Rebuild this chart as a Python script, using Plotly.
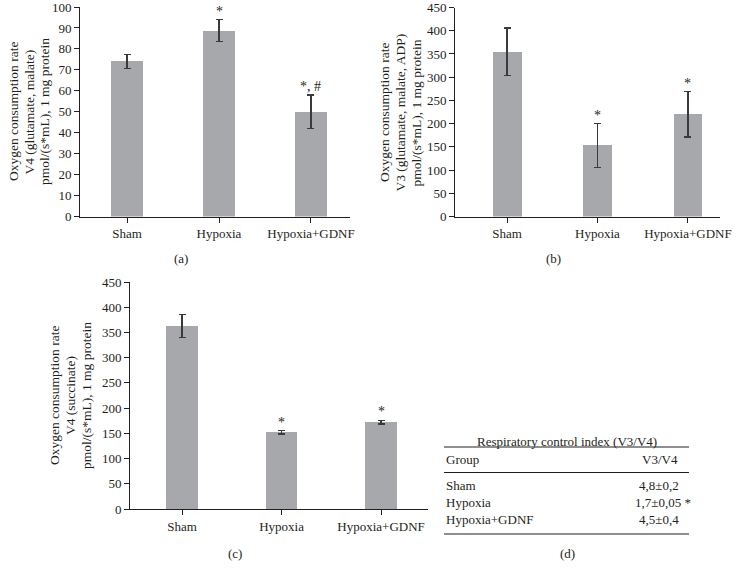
import plotly.graph_objects as go

groups = ["Sham", "Hypoxia", "Hypoxia+GDNF"]

# (a) V4 (glutamate, malate)
v4_glu = [74, 88.7, 50]
v4_glu_err = [3.3, 5.3, 8.0]
sig_a = ["", "*", "*, #"]

# (b) V3 (glutamate, malate, ADP)
v3_glu = [355, 153, 220]
v3_glu_err = [51, 47, 49]
sig_b = ["", "*", "*"]

# (c) V4 (succinate)
v4_succ = [363, 152, 172]
v4_succ_err = [23, 3.5, 3.5]
sig_c = ["", "*", "*"]

# (d) table
table_title = "Respiratory control index (V3/V4)"
table_header = ["Group", "V3/V4"]
table_groups = ["Sham", "Hypoxia", "Hypoxia+GDNF"]
table_values = ["4,8±0,2", "1,7±0,05 *", "4,5±0,4"]

W, H = 736, 571
FONT = "Liberation Serif"
BAR = "#a7a8ab"
INK = "#231f20"

def px(x):
    return x / W

def py(y):
    return 1 - y / H

fig = go.Figure()

panels = [
    dict(vals=v4_glu, err=v4_glu_err, sig=sig_a, xa="x", ya="y", width=0.34),
    dict(vals=v3_glu, err=v3_glu_err, sig=sig_b, xa="x2", ya="y2", width=0.32),
    dict(vals=v4_succ, err=v4_succ_err, sig=sig_c, xa="x3", ya="y3", width=0.32),
]

annotations = []
for p in panels:
    fig.add_trace(go.Bar(
        x=groups, y=p["vals"], xaxis=p["xa"], yaxis=p["ya"],
        width=p["width"], marker=dict(color=BAR, line=dict(width=0)),
        error_y=dict(type="data", array=p["err"], visible=True,
                     color="#3a3a3a", thickness=1.2, width=3.5),
        showlegend=False, hoverinfo="skip",
    ))
    for g, v, e, s in zip(groups, p["vals"], p["err"], p["sig"]):
        if s:
            annotations.append(dict(
                x=g, y=v + e, xref=p["xa"], yref=p["ya"], text=s,
                showarrow=False, yanchor="bottom", xanchor="center",
                font=dict(family=FONT, size=14, color=INK), yshift=-1,
            ))

axis_common = dict(showline=True, linecolor=INK, linewidth=1, ticks="outside",
                   ticklen=5, tickcolor=INK, tickwidth=1, showgrid=False,
                   zeroline=False, automargin=False, ticklabeloverflow="allow",
                   tickfont=dict(family=FONT, size=13, color=INK))

fig.update_layout(
    width=W, height=H, margin=dict(l=0, r=0, t=0, b=0, autoexpand=False),
    paper_bgcolor="white", plot_bgcolor="white",
    bargap=0,
    xaxis=dict(domain=[px(80), px(350)], anchor="y", type="category",
               range=[-0.511, 2.424], **axis_common),
    yaxis=dict(domain=[py(216.5), py(7)], anchor="x", range=[0, 100],
               dtick=10, **axis_common),
    xaxis2=dict(domain=[px(455), px(720)], anchor="y2", type="category",
                range=[-0.575, 2.354], **axis_common),
    yaxis2=dict(domain=[py(216.5), py(7.5)], anchor="x2", range=[0, 450],
                dtick=50, **axis_common),
    xaxis3=dict(domain=[px(130), px(428)], anchor="y3", type="category",
                range=[-0.523, 2.472], **axis_common),
    yaxis3=dict(domain=[py(509), py(282)], anchor="x3", range=[0, 450],
                dtick=50, **axis_common),
)

def title_lines(lines, xs, yc):
    for t, x in zip(lines, xs):
        annotations.append(dict(
            x=px(x), y=py(yc), xref="paper", yref="paper", text=t,
            showarrow=False, textangle=-90, xanchor="center", yanchor="middle",
            font=dict(family=FONT, size=13.5, color=INK),
        ))

title_lines(["Oxygen consumption rate", "V4 (glutamate, malate)",
             "pmol/(s*mL), 1 mg protein"], [13, 28.5, 44], 112)
title_lines(["Oxygen consumption rate", "V3 (glutamate, malate, ADP)",
             "pmol/(s*mL), 1 mg protein"], [385, 400.5, 416.5], 113)
title_lines(["Oxygen consumption rate", "V4 (succinate)",
             "pmol/(s*mL), 1 mg protein"], [54, 70, 86], 396)

def label(t, x, y, anchor="center", size=13):
    annotations.append(dict(
        x=px(x), y=py(y), xref="paper", yref="paper", text=t,
        showarrow=False, xanchor=anchor, yanchor="middle",
        font=dict(family=FONT, size=size, color=INK),
    ))

label("(a)", 181, 258)
label("(b)", 553, 258)
label("(c)", 235, 553)
label("(d)", 567, 553)

# table (d)
label(table_title, 567, 441)
label(table_header[0], 444, 459, anchor="left")
label(table_header[1], 660, 459)
for i, (g, v) in enumerate(zip(table_groups, table_values)):
    yy = 485 + 17 * i
    label(g, 444, yy, anchor="left")
    if v.endswith(" *"):
        annotations.append(dict(
            x=px(633), y=py(yy), xref="paper", yref="paper", text=v,
            showarrow=False, xanchor="left", yanchor="middle",
            font=dict(family=FONT, size=13, color=INK),
        ))
    else:
        label(v, 659, yy)

shapes = []
for yline in [447, 472.5, 534]:
    shapes.append(dict(type="line", xref="paper", yref="paper",
                       x0=px(444), x1=px(689), y0=py(yline), y1=py(yline),
                       line=dict(color=INK, width=1.2)))

fig.update_layout(annotations=annotations, shapes=shapes)

fig.write_html(
    "out.html",
    config={"displayModeBar": False, "staticPlot": True},
    post_script="document.body.style.margin='0';"
                "document.body.style.overflow='hidden';",
)
